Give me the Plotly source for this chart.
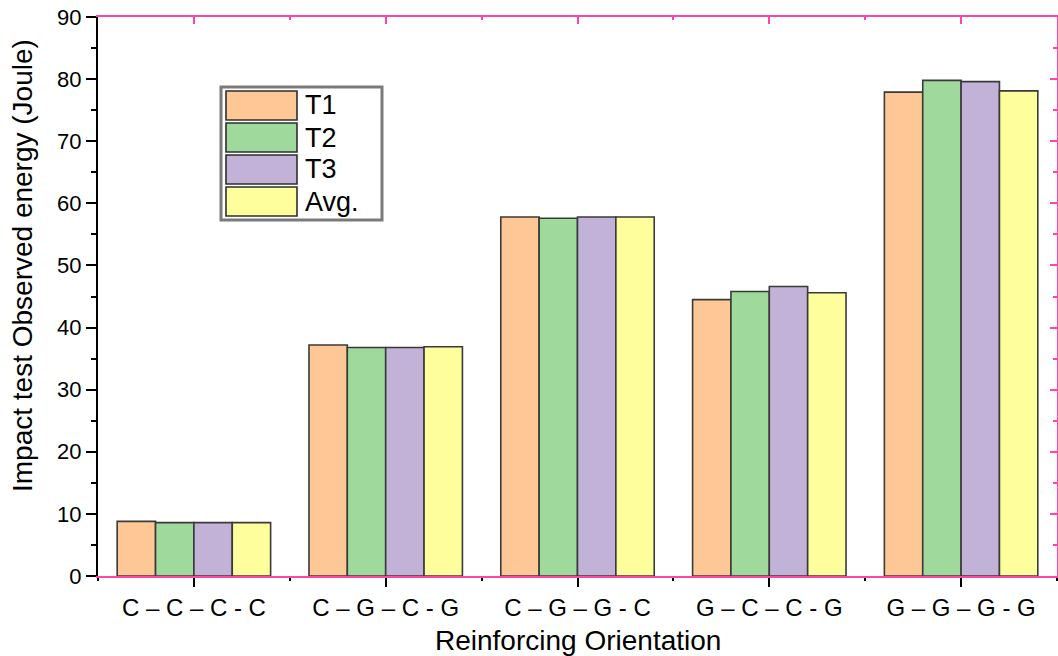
import plotly.graph_objects as go

categories = ["C – C – C - C", "C – G – C - G", "C – G – G - C", "G – C – C - G", "G – G – G - G"]
series_names = ["T1", "T2", "T3", "Avg."]
t1 = [8.8, 37.2, 57.8, 44.5, 77.9]
t2 = [8.6, 36.8, 57.6, 45.8, 79.8]
t3 = [8.6, 36.8, 57.8, 46.6, 79.6]
avg = [8.6, 36.9, 57.8, 45.6, 78.1]
series_values = [t1, t2, t3, avg]
colors = ["#FDC896", "#9FD99C", "#C3B2D7", "#FFFE9C"]
y_ticks = [0, 10, 20, 30, 40, 50, 60, 70, 80, 90]
x_title = "Reinforcing Orientation"
y_title = "Impact test Observed energy (Joule)"

PINK = "#FF45A8"
FONT = "Liberation Sans, Arial, sans-serif"

W, H = 1058, 656
L, R, T, B = 98, 1, 17, 80
pw, ph = W - L - R, H - T - B

def px2paper(x, y):
    return (x - L) / pw, (H - B - y) / ph

xs = list(range(len(categories)))
fig = go.Figure()
for name, vals, c in zip(series_names, series_values, colors):
    fig.add_trace(go.Bar(x=xs, y=vals, name=name, marker=dict(color=c, line=dict(color="#3a3a3a", width=1.6)),
                         showlegend=False))

# invisible trace to activate the mirrored axes
fig.add_trace(go.Scatter(x=[0], y=[0], xaxis="x2", yaxis="y2", mode="markers",
                         marker=dict(opacity=0), showlegend=False, hoverinfo="skip"))

fig.update_layout(
    width=W, height=H,
    margin=dict(l=L, r=R, t=T, b=B, autoexpand=False),
    paper_bgcolor="white", plot_bgcolor="white",
    barmode="group", bargap=0.2, bargroupgap=0,
    font=dict(family=FONT, color="black"),
    xaxis=dict(
        range=[-0.5, 4.5], tickmode="array", tickvals=xs, ticktext=categories,
        showgrid=False, zeroline=False, automargin=False,
        showline=True, linecolor=PINK, linewidth=2,
        ticks="outside", tickcolor="black", ticklen=9, tickwidth=2,
        minor=dict(tickmode="linear", tick0=-0.5, dtick=1, ticks="outside", ticklen=3, tickcolor="black", tickwidth=2),
        tickfont=dict(size=24, family=FONT),
    ),
    xaxis2=dict(
        overlaying="x", side="top", range=[-0.5, 4.5], tickmode="array", tickvals=xs,
        showticklabels=False, showgrid=False, zeroline=False,
        showline=True, linecolor=PINK, linewidth=2,
        ticks="inside", tickcolor=PINK, ticklen=7, tickwidth=2,
        minor=dict(tickmode="linear", tick0=-0.5, dtick=1, ticks="inside", ticklen=3, tickcolor=PINK, tickwidth=2),
    ),
    yaxis=dict(
        range=[0, 90], tickmode="array", tickvals=y_ticks,
        showgrid=False, zeroline=False, automargin=False,
        showline=True, linecolor="black", linewidth=2,
        ticks="outside", tickcolor="black", ticklen=10, tickwidth=2,
        minor=dict(tickmode="linear", tick0=0, dtick=5, ticks="outside", ticklen=5, tickcolor="black", tickwidth=2),
        tickfont=dict(size=22, family=FONT),
    ),
    yaxis2=dict(
        overlaying="y", side="right", range=[0, 90], tickmode="array", tickvals=y_ticks,
        showticklabels=False, showgrid=False, zeroline=False,
        showline=True, linecolor=PINK, linewidth=2,
        ticks="inside", tickcolor=PINK, ticklen=7, tickwidth=2,
        minor=dict(tickmode="linear", tick0=0, dtick=5, ticks="inside", ticklen=4, tickcolor=PINK, tickwidth=2),
    ),
)

shapes = []
annotations = []

# axis titles
tx, ty = px2paper(578, 640)
annotations.append(dict(xref="paper", yref="paper", x=tx, y=ty, text=x_title, showarrow=False,
                        xanchor="center", yanchor="middle", font=dict(size=28, family=FONT, color="black")))
tx, ty = px2paper(22, 266)
annotations.append(dict(xref="paper", yref="paper", x=tx, y=ty, text=y_title, showarrow=False, textangle=-90,
                        xanchor="center", yanchor="middle", font=dict(size=28, family=FONT, color="black")))

# custom legend (large swatches as in the reference)
x0, y0 = px2paper(221, 87)
x1, y1 = px2paper(382, 220)
shapes.append(dict(type="rect", xref="paper", yref="paper", x0=x0, y0=y1, x1=x1, y1=y0,
                   line=dict(color="#7a7a7a", width=3), fillcolor="white", layer="above"))
sw_top = [91, 123, 155, 187]
for i, (name, c) in enumerate(zip(series_names, colors)):
    ax0, ay0 = px2paper(226, sw_top[i])
    ax1, ay1 = px2paper(297, sw_top[i] + 29)
    shapes.append(dict(type="rect", xref="paper", yref="paper", x0=ax0, y0=ay1, x1=ax1, y1=ay0,
                       line=dict(color="#2e2e2e", width=1.6), fillcolor=c, layer="above"))
    tx, ty = px2paper(303, sw_top[i] + 14.5)
    annotations.append(dict(xref="paper", yref="paper", x=tx, y=ty, text=name, showarrow=False,
                            xanchor="left", yanchor="middle", font=dict(size=27, family=FONT, color="black")))
fig.update_layout(shapes=shapes, annotations=annotations)

fig.write_html("out.html", config={"displayModeBar": False},
               post_script="document.body.style.margin='0';document.body.style.overflow='hidden';")
